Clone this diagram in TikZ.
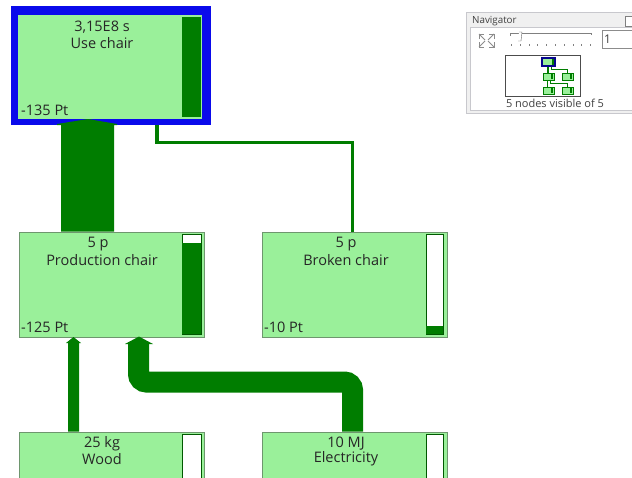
\documentclass[tikz,border=0pt]{standalone}
\usepackage{fontspec}
\setmainfont{Open Sans}
\definecolor{lg}{RGB}{154,240,154}
\definecolor{dg}{RGB}{0,125,0}
\definecolor{bl}{RGB}{10,10,235}
\definecolor{bd}{RGB}{110,150,110}
\definecolor{pg}{RGB}{240,240,240}
\definecolor{pb}{RGB}{200,200,205}
\begin{document}
\begin{tikzpicture}[x=1pt,y=-1pt,
  box/.style={fill=lg,draw=bd,line width=0.8pt},
  bar/.style={fill=white,draw=dg!70!black,line width=0.6pt},
  lbl/.style={font=\fontsize{14.5}{16}\selectfont,text=black!85,inner sep=0pt},
  pt/.style={font=\fontsize{14.5}{16}\selectfont,text=black!85,inner sep=0pt,anchor=west},
  flow/.style={fill=dg,draw=none},
  nav/.style={font=\fontsize{9.8}{11}\selectfont,text=black!75,inner sep=0pt}]
\useasboundingbox (0,0) rectangle (632,477);
\fill[white] (0,0) rectangle (632,477);
% Use chair
\fill[bl] (11,6) rectangle (211,125);
\node[box,draw=none,minimum width=184pt,minimum height=104pt,anchor=north west,inner sep=0pt] (use) at (18,15) {};
\fill[dg] (182,17) rectangle (201,117);
\node[lbl] (useq) at (102,27) {3,15E8 s};
\node[lbl] (usen) at (102,43) {Use chair};
\node[pt] (usep) at (21,110) {-135 Pt};
% Production chair
\node[box,minimum width=185pt,minimum height=105pt,anchor=north west,inner sep=0pt] (prod) at (19,232) {};
\draw[bar] (182,234) rectangle (201,334);
\fill[dg] (182.3,243) rectangle (200.7,333.7);
\node[lbl] (prodq) at (98,244) {5 p};
\node[lbl] (prodn) at (102,260) {Production chair};
\node[pt] (prodp) at (21,327) {-125 Pt};
% Broken chair
\node[box,minimum width=185pt,minimum height=105pt,anchor=north west,inner sep=0pt] (brok) at (262,232) {};
\draw[bar] (426,234) rectangle (443,334);
\fill[dg] (426.3,326) rectangle (442.7,333.7);
\node[lbl] (brokq) at (346,244) {5 p};
\node[lbl] (brokn) at (346,260) {Broken chair};
\node[pt] (brokp) at (264,327) {-10 Pt};
% Wood
\node[box,minimum width=185pt,minimum height=60pt,anchor=north west,inner sep=0pt] (wood) at (19,432) {};
\draw[bar] (182,434) rectangle (201,480);
\node[lbl] (woodq) at (102,444) {25 kg};
\node[lbl] (woodn) at (102,459) {Wood};
% Electricity
\node[box,minimum width=185pt,minimum height=60pt,anchor=north west,inner sep=0pt] (elec) at (262,432) {};
\draw[bar] (426,434) rectangle (443,480);
\node[lbl] (elecq) at (346,444) {10 MJ};
\node[lbl] (elecn) at (346,459) {Electricity};
% Flows
\fill[flow] (61,231.5) -- (61,125) -- (57,125) -- (57,124) -- (88,119) -- (117,124) -- (117,125) -- (114,125) -- (114,231.5) -- cycle;
\draw[dg,line width=3.5pt] (352.5,232) -- (352.5,142.5) -- (157,142.5) -- (157,125);
\fill[flow] (68,431.5) -- (68,343) -- (66,343) -- (73.5,337) -- (81,343) -- (79,343) -- (79,431.5) -- cycle;
\draw[dg,line width=21pt,rounded corners=8pt] (352.5,431.5) -- (352.5,382) -- (138.5,382) -- (138.5,342);
\fill[flow] (125,344) -- (139,336.5) -- (153,344) -- cycle;
% Navigator panel
\draw[pb,fill=pg] (466.5,12.5) rectangle (640,113.5);
\node[nav,anchor=west] (navt) at (472,21) {Navigator};
\draw[black!50,fill=white] (625,16) rectangle (636,26);
\fill[white] (470,27) rectangle (640,110);
\draw[pb] (470,27) rectangle (640,110);
% expand icon
\begin{scope}[black!45,line width=0.9pt]
\draw (479,39) -- (479,34) -- (484,34); \draw (479,34) -- (485,40);
\draw (494,39) -- (494,34) -- (489,34); \draw (494,34) -- (488,40);
\draw (479,42) -- (479,47) -- (484,47); \draw (479,47) -- (485,41);
\draw (494,42) -- (494,47) -- (489,47); \draw (494,47) -- (488,41);
\end{scope}
% slider
\draw[black!50] (510,36) -- (510,33) -- (591,33) -- (591,35);
\draw[black!60,fill=white] (519,32) -- (522,32) -- (521,41) -- (518,41);
\foreach \i in {0,...,9} \fill[black!50] (511+\i*8.8,44) rectangle ++(0.8,1.5);
\draw[black!45,fill=white] (602,30) rectangle (640,48);
\node[nav,anchor=west,font=\fontsize{12}{13}\selectfont] (navv) at (604,39.5) {1};
% mini map
\draw[black!70,fill=white] (505.5,55.5) rectangle (580.5,96.5);
\draw[dg,line width=1.5pt] (548,66) -- (548,73);
\draw[dg,line width=0.5pt] (551,66) -- (551,69) -- (567,69) -- (567,73);
\draw[dg,line width=0.6pt] (547,80) -- (547,87);
\draw[dg,line width=1pt] (550,80) -- (550,83.5) -- (567,83.5) -- (567,87);
\draw[fill=lg,draw=bl!60!black,line width=1.2pt] (542,58) rectangle (555,66);
\fill[dg] (552,59) rectangle (554,65);
\foreach \xx/\yy in {543/73,562/73,543/87,562/87} {
  \draw[fill=lg,draw=dg,line width=0.4pt] (\xx,\yy) rectangle ++(11,7);
  \fill[dg] (\xx+8,\yy+1) rectangle ++(2,5);
}
\node[nav,font=\fontsize{11}{12}\selectfont] (navs) at (555,103.5) {5 nodes visible of 5};
\end{tikzpicture}
\end{document}
